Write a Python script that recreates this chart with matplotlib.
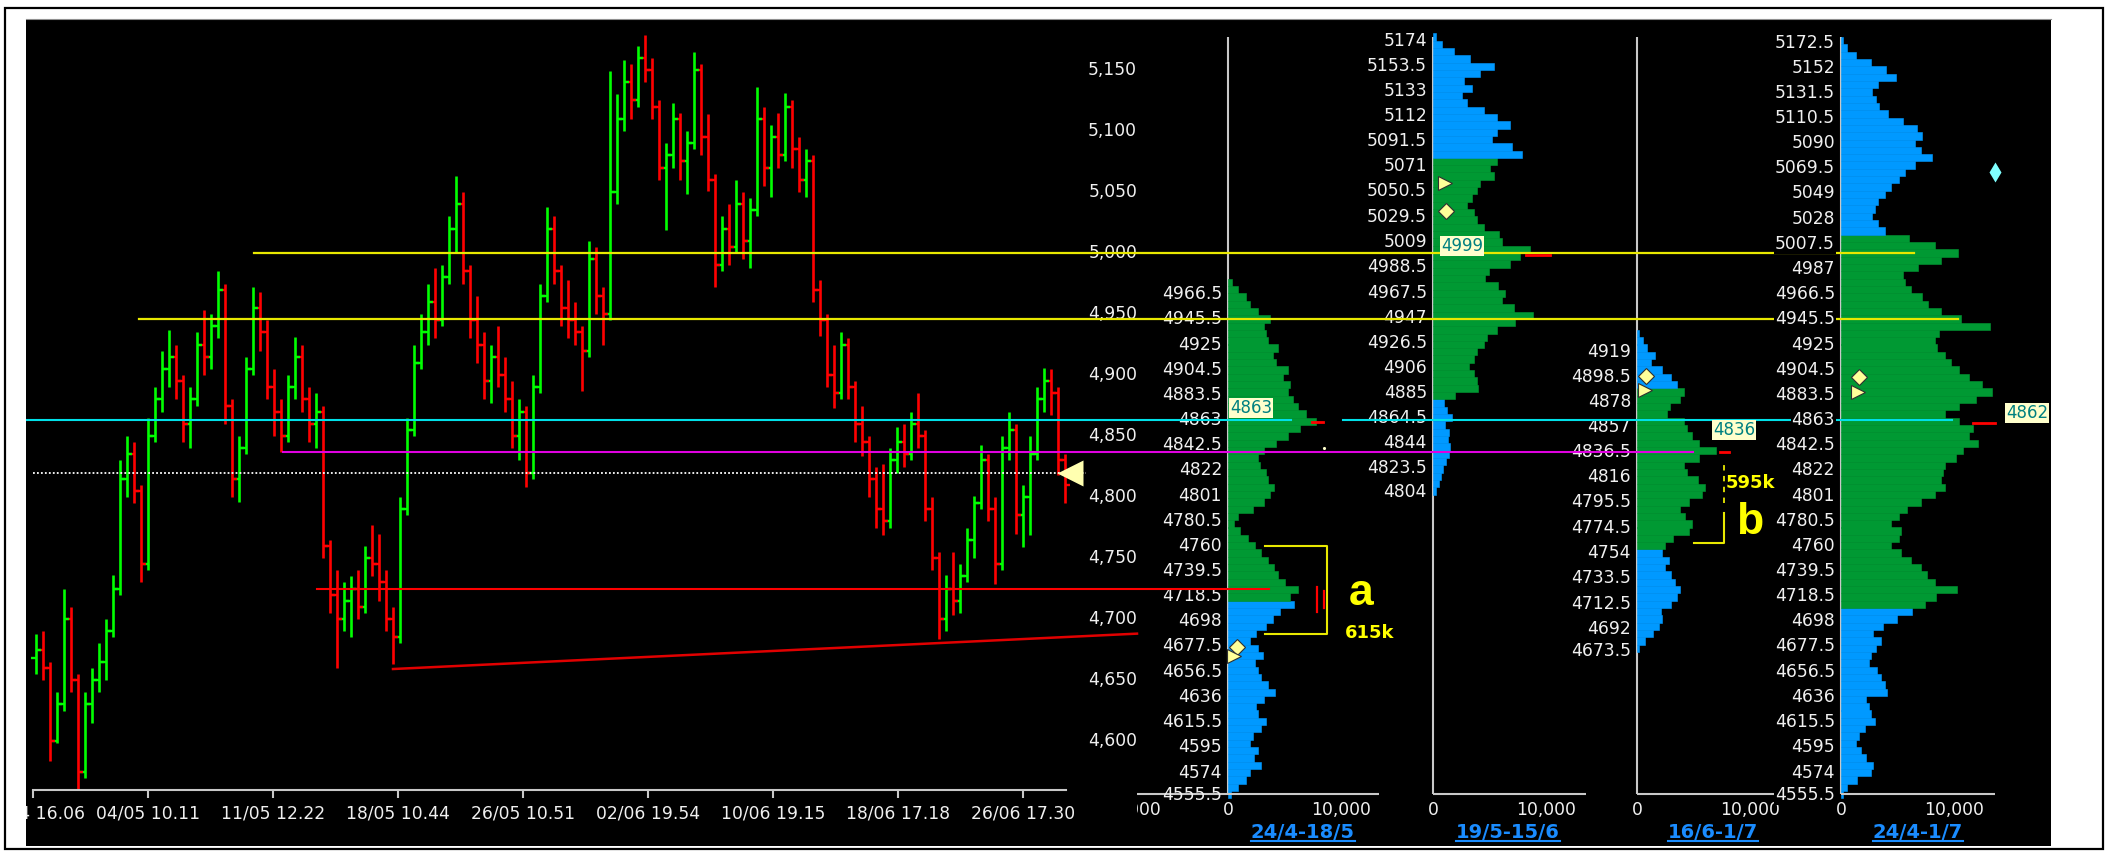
import numpy as np
import matplotlib
matplotlib.use("Agg")
import matplotlib.pyplot as plt
from matplotlib.patches import Rectangle
from matplotlib.lines import Line2D

plt.rcParams['font.family'] = ['DejaVu Sans']

# ------------------------- data -------------------------
# price bars (one bar every 7 px on the screen)
bar_open = [4668, 4675, 4660, 4600, 4630, 4700, 4650, 4575, 4630, 4650,
            4665, 4690, 4725, 4815, 4835, 4805, 4745, 4850, 4880, 4905,
            4915, 4895, 4860, 4880, 4925, 4915, 4940, 4970, 4875, 4815,
            4840, 4905, 4955, 4935, 4890, 4870, 4850, 4890, 4915, 4880,
            4860, 4870, 4760, 4720, 4700, 4715, 4725, 4710, 4750, 4745,
            4730, 4700, 4685, 4790, 4855, 4910, 4935, 4960, 4945, 4980,
            5020, 5040, 4985, 4945, 4925, 4895, 4915, 4900, 4880, 4850,
            4870, 4820, 4890, 4965, 5020, 4985, 4955, 4945, 4935, 4920,
            4995, 4965, 4950, 5050, 5110, 5140, 5125, 5160, 5150, 5120,
            5070, 5080, 5110, 5075, 5090, 5150, 5095, 5060, 4990, 5020,
            5005, 5040, 5010, 5035, 5110, 5070, 5095, 5080, 5120, 5085,
            5060, 5075, 4970, 4945, 4900, 4885, 4925, 4890, 4860, 4845,
            4815, 4790, 4780, 4830, 4845, 4835, 4860, 4850, 4790, 4750,
            4700, 4725, 4715, 4735, 4765, 4795, 4830, 4790, 4745, 4840,
            4855, 4785, 4800, 4835, 4880, 4895, 4885, 4830]
bar_high = [4688, 4690, 4665, 4640, 4725, 4710, 4655, 4640, 4660, 4680,
            4700, 4736, 4830, 4850, 4845, 4810, 4865, 4890, 4920, 4937,
            4925, 4900, 4890, 4935, 4953, 4950, 4985, 4975, 4880, 4850,
            4915, 4972, 4968, 4945, 4905, 4880, 4900, 4931, 4925, 4890,
            4885, 4875, 4765, 4740, 4730, 4735, 4740, 4760, 4777, 4770,
            4740, 4710, 4800, 4865, 4925, 4950, 4975, 4988, 4990, 5030,
            5063, 5050, 4990, 4965, 4935, 4925, 4940, 4915, 4895, 4880,
            4875, 4900, 4975, 5038, 5030, 4990, 4978, 4960, 4940, 5010,
            5005, 4972, 5149, 5130, 5158, 5155, 5170, 5179, 5160, 5125,
            5090, 5123, 5115, 5100, 5165, 5155, 5114, 5065, 5030, 5040,
            5060, 5050, 5045, 5136, 5120, 5105, 5115, 5131, 5125, 5095,
            5085, 5080, 4978, 4950, 4925, 4935, 4930, 4895, 4875, 4850,
            4825, 4827, 4840, 4857, 4860, 4870, 4885, 4855, 4800, 4755,
            4736, 4755, 4745, 4775, 4801, 4843, 4835, 4800, 4850, 4870,
            4860, 4810, 4850, 4890, 4906, 4905, 4890, 4835]
bar_low = [4655, 4650, 4584, 4598, 4625, 4640, 4560, 4570, 4615, 4640,
           4650, 4685, 4720, 4800, 4795, 4730, 4740, 4845, 4870, 4890,
           4880, 4845, 4840, 4875, 4900, 4905, 4930, 4860, 4800, 4796,
           4835, 4900, 4920, 4880, 4850, 4837, 4845, 4880, 4870, 4845,
           4840, 4750, 4705, 4660, 4690, 4685, 4700, 4705, 4735, 4715,
           4690, 4663, 4680, 4785, 4850, 4905, 4925, 4930, 4940, 4975,
           5000, 4975, 4930, 4910, 4880, 4877, 4890, 4870, 4840, 4830,
           4808, 4815, 4885, 4960, 4975, 4940, 4930, 4925, 4887, 4915,
           4950, 4925, 4945, 5040, 5100, 5110, 5120, 5140, 5110, 5060,
           5019, 5070, 5060, 5048, 5085, 5080, 5051, 4972, 4985, 4990,
           5000, 4995, 4988, 5030, 5055, 5046, 5070, 5075, 5070, 5050,
           5046, 4960, 4932, 4890, 4873, 4880, 4880, 4845, 4834, 4800,
           4775, 4769, 4775, 4820, 4825, 4830, 4840, 4780, 4740, 4684,
           4690, 4703, 4705, 4730, 4750, 4790, 4780, 4729, 4740, 4830,
           4770, 4759, 4769, 4830, 4870, 4867, 4818, 4795]
bar_close = [4675, 4660, 4600, 4630, 4700, 4650, 4575, 4630, 4650, 4665,
             4690, 4725, 4815, 4835, 4805, 4745, 4850, 4880, 4905, 4915,
             4895, 4860, 4880, 4925, 4915, 4940, 4970, 4875, 4815, 4840,
             4905, 4955, 4935, 4890, 4870, 4850, 4890, 4915, 4880, 4860,
             4870, 4760, 4720, 4700, 4715, 4725, 4710, 4750, 4745, 4730,
             4700, 4685, 4790, 4855, 4910, 4935, 4960, 4945, 4980, 5020,
             5040, 4985, 4945, 4925, 4895, 4915, 4900, 4880, 4850, 4870,
             4820, 4890, 4965, 5020, 4985, 4955, 4945, 4935, 4920, 4995,
             4965, 4950, 5050, 5110, 5140, 5125, 5160, 5150, 5120, 5070,
             5080, 5110, 5075, 5090, 5150, 5095, 5060, 4990, 5020, 5005,
             5040, 5010, 5035, 5110, 5070, 5095, 5080, 5120, 5085, 5060,
             5075, 4970, 4945, 4900, 4885, 4925, 4890, 4860, 4845, 4815,
             4790, 4780, 4830, 4845, 4835, 4860, 4850, 4790, 4750, 4700,
             4725, 4715, 4735, 4765, 4795, 4830, 4790, 4745, 4840, 4855,
             4785, 4800, 4835, 4880, 4895, 4885, 4830, 4810]

time_labels = ["28/04 16.06", "04/05 10.11", "11/05 12.22", "18/05 10.44", "26/05 10.51",
               "02/06 19.54", "10/06 19.15", "18/06 17.18", "26/06 17.30"]
price_ticks = [5150, 5100, 5050, 5000, 4950, 4900, 4850, 4800, 4750, 4700, 4650, 4600]

# volume profiles: volumes per 6-point bin, from the lowest bin upward
p1_low, p2_low, p3_low, p4_low = 4553, 4802, 4673, 4553
p1_vol = [270, 890, 1590, 1950, 2920, 2300, 2660, 1950, 2210, 2920,
          3360, 2660, 2480, 3190, 4160, 3540, 2920, 2660, 2390, 3100,
          2660, 1950, 2480, 3360, 3980, 4600, 5840, 5490, 6200, 5040,
          4430, 4070, 3540, 2920, 2390, 1770, 1060, 530, 890, 2210,
          3190, 3720, 4070, 3540, 3360, 2830, 2660, 3190, 4250, 5310,
          6370, 7790, 6900, 6200, 5750, 5310, 5490, 4870, 5310, 4250,
          3980, 4430, 3540, 3360, 3190, 3720, 2660, 1950, 1590, 890, 350]
p2_vol = [270, 530, 710, 890, 1150, 1420, 1500, 1330, 1420, 1060,
          1680, 1240, 970, 1950, 3980, 3890, 3630, 3190, 3630, 3890,
          4510, 4780, 5660, 7260, 8850, 7170, 6110, 6370, 5750, 4600,
          4960, 6810, 7700, 8580, 6110, 5840, 4510, 3890, 3630, 3010,
          3450, 3890, 4160, 5400, 5040, 5660, 7880, 6990, 5220, 5660,
          6810, 5660, 4510, 3010, 2570, 3450, 2740, 4160, 5400, 3270,
          1860, 800, 270]
p3_vol = [180, 710, 1420, 1950, 2210, 2120, 3010, 3540, 3810, 3360,
          3010, 2480, 2830, 2210, 2480, 3190, 4600, 4870, 4250, 3810,
          4600, 5750, 6020, 5400, 4430, 4160, 5490, 6990, 5490, 4870,
          4430, 4160, 2660, 2920, 3810, 4160, 3540, 3010, 2210, 1240,
          1590, 890, 530, 180]
p4_vol = [180, 530, 1420, 2660, 2830, 2210, 1770, 1330, 1590, 2120,
          3010, 2660, 2480, 2210, 4070, 3890, 3540, 3190, 2480, 2660,
          3100, 3540, 2830, 3720, 4960, 6280, 7430, 8410, 10270, 8320,
          7610, 7080, 6200, 5310, 4430, 5130, 5310, 4430, 5130, 5840,
          7080, 8320, 9200, 8850, 9030, 9200, 10180, 10800, 12120, 11330,
          11680, 10440, 9200, 10440, 11950, 13360, 12480, 11330, 10440, 9740,
          9200, 8500, 8320, 8670, 13190, 10620, 8850, 7700, 7170, 6200,
          5660, 5490, 6810, 8850, 10350, 8320, 6020, 3890, 3270, 2740,
          3010, 3270, 3890, 4430, 5130, 5660, 6550, 8050, 7080, 6550,
          7170, 6730, 5490, 4160, 3360, 3100, 2740, 3270, 4870, 3980,
          2660, 1330, 530, 180]
# value area (green part) of each profile
p_value_area = [(4713, 4990), (4880, 5080), (4755, 4888), (4710, 5016)]

p1_labels = ["4966.5", "4945.5", "4925", "4904.5", "4883.5", "4863", "4842.5", "4822", "4801",
             "4780.5", "4760", "4739.5", "4718.5", "4698", "4677.5", "4656.5", "4636", "4615.5",
             "4595", "4574", "4555.5"]
p2_labels = ["5174", "5153.5", "5133", "5112", "5091.5", "5071", "5050.5", "5029.5", "5009",
             "4988.5", "4967.5", "4947", "4926.5", "4906", "4885", "4864.5", "4844", "4823.5", "4804"]
p3_labels = ["4919", "4898.5", "4878", "4857", "4836.5", "4816", "4795.5", "4774.5", "4754",
             "4733.5", "4712.5", "4692", "4673.5"]
p4_labels = ["5172.5", "5152", "5131.5", "5110.5", "5090", "5069.5", "5049", "5028", "5007.5",
             "4987", "4966.5", "4945.5", "4925", "4904.5", "4883.5", "4863", "4842.5", "4822",
             "4801", "4780.5", "4760", "4739.5", "4718.5", "4698", "4677.5", "4656.5", "4636",
             "4615.5", "4595", "4574", "4555.5"]
p_titles = ["24/4-18/5", "19/5-15/6", "16/6-1/7", "24/4-1/7"]
p_poc_box = ["4863", "4999", "4836", "4862"]

# ------------------------- layout -------------------------
W, H = 2107, 852
fig = plt.figure(figsize=(W / 100, H / 100), dpi=100)
fig.patch.set_facecolor('white')


def price_at(ypx):
    # screen y pixel -> index points (5000 at y=253, 1.22 px per point)
    return 5000 - (ypx - 253) / 1.22


def add_px_axes(x0, y0, x1, y1):
    return fig.add_axes([x0 / W, 1 - y1 / H, (x1 - x0) / W, (y1 - y0) / H])


BLACK = (26, 19, 2051, 846)
YLIM = (price_at(846), price_at(19))
VOL_PX = 113 / 10000.0      # pixels per contract on the profile axes
TXT = '#f0f0f0'
AXC = '#c8c8c8'
GREEN_P, BLUE_P = '#009933', '#0099ff'
YEL = '#e8e800'
TITLE_BLUE = '#1a8cff'
LBL = 12.3

fig.add_artist(Rectangle((5 / W, 1 - 849 / H), 2098 / W, 841 / H, transform=fig.transFigure,
                         fill=False, ec='black', lw=1.6))

# background + price bars
ax_bg = add_px_axes(*BLACK)
ax_bg.set_facecolor('black')
ax_bg.set_xlim(BLACK[0], BLACK[2])
ax_bg.set_ylim(*YLIM)
ax_bg.set_xticks([])
ax_bg.set_yticks([])
for s in ax_bg.spines.values():
    s.set_visible(False)
ax_bg.spines['top'].set_visible(True)
ax_bg.spines['top'].set_color('#909090')

o = np.array(bar_open)
c = np.array(bar_close)
bx = 36 + 7 * np.arange(len(o))
bcol = np.where(c >= o, '#00ff00', '#ff0000')
ax_bg.vlines(bx, bar_low, bar_high, colors=bcol, lw=1.9)
ax_bg.hlines(o, bx - 5, bx, colors=bcol, lw=1.7)
ax_bg.hlines(c, bx, bx + 5, colors=bcol, lw=1.7)

# time axis
tick_px = [33, 148, 273, 398, 523, 648, 773, 898, 1023]
ax_bg.plot([33, 1066], [price_at(790)] * 2, color=AXC, lw=1.5)
ax_bg.vlines(tick_px, price_at(798), price_at(790), color=AXC, lw=1.5)
for tx, lab in zip(tick_px, time_labels):
    ax_bg.text(tx, price_at(813), lab, color=TXT, fontsize=LBL, ha='center', va='center', clip_on=True)

# price axis labels
for p in price_ticks:
    ax_bg.text(1137, p, f"{p:,}", color=TXT, fontsize=LBL, ha='right', va='center')

# volume profiles
panel_axis_px = [1228, 1433, 1637, 1841]
panel_end_vol = [13360, 13540, 12570, 13630]
panels = [(p1_low, p1_vol, p1_labels), (p2_low, p2_vol, p2_labels),
          (p3_low, p3_vol, p3_labels), (p4_low, p4_vol, p4_labels)]
panel_axes = []
for k, (lo, vols, labs) in enumerate(panels):
    ax0 = panel_axis_px[k]
    ax = add_px_axes(ax0 - 91, 19, ax0 + 160, 846)
    ax.set_xlim(-91 / VOL_PX, 160 / VOL_PX)
    ax.set_ylim(*YLIM)
    ax.set_axis_off()
    centers = lo + 3 + 6 * np.arange(len(vols))
    va_lo, va_hi = p_value_area[k]
    cols = [GREEN_P if va_lo <= y < va_hi else BLUE_P for y in centers]
    ax.vlines(0, price_at(794), price_at(37), color=AXC, lw=1.5, zorder=1)
    ax.barh(centers, vols, height=6, left=0, color=cols, edgecolor=cols, lw=0.4, zorder=2)
    x_start = -8050 if k == 0 else 0
    ax.hlines(price_at(794), x_start, panel_end_vol[k], color=AXC, lw=1.5)
    ax.text(0, price_at(810), "0", color=TXT, fontsize=LBL, ha='center', va='center')
    ax.text(10000, price_at(810), "10,000", color=TXT, fontsize=LBL, ha='center', va='center')
    panel_axes.append(ax)
panel_axes[0].text(-8000, price_at(810), "8,000", color=TXT, fontsize=LBL, ha='center',
                   va='center', clip_on=True)

# overlay: levels, labels, markers
ax_top = add_px_axes(*BLACK)
ax_top.set_xlim(BLACK[0], BLACK[2])
ax_top.set_ylim(*YLIM)
ax_top.set_axis_off()

for k, (lo, vols, labs) in enumerate(panels):
    for lab in labs:
        kw = dict(bbox=dict(fc='black', ec='none', pad=0.5), zorder=5) if k == 3 else dict(zorder=1)
        ax_top.text(panel_axis_px[k] - 6, float(lab), lab, color=TXT, fontsize=LBL,
                    ha='right', va='center', **kw)

ax_top.plot([254, 1914], [5000, 5000], color=YEL, lw=1.6, zorder=3)
ax_top.plot([139, 1958], [4945.5, 4945.5], color=YEL, lw=1.6, zorder=3)
ax_top.plot([26, 1291], [4863, 4863], color='#00e0e8', lw=1.5, zorder=3)
ax_top.plot([1343, 1952], [4863, 4863], color='#00e0e8', lw=1.5, zorder=3)
ax_top.plot([283, 1693], [4836.5, 4836.5], color='#e000e0', lw=1.5, zorder=3)
ax_top.plot([33, 1086], [4819.5, 4819.5], color='white', lw=1.3, ls=(0, (1, 1.2)), zorder=3)
ax_top.plot([317, 1269], [4725, 4725], color='#ff0000', lw=1.5, zorder=3)
ax_top.plot([393, 1137], [4659, 4688], color='#e00000', lw=1.8, zorder=3)

# point of control marks
ax_top.plot([1312, 1323], [4861.6, 4861.6], color='red', lw=2, zorder=4)
ax_top.plot([1526, 1550], [4998, 4998], color='red', lw=2, zorder=4)
ax_top.plot([1720, 1729], [4837, 4837], color='red', lw=2, zorder=4)
ax_top.plot([1973, 1995], [4860.7, 4860.7], color='red', lw=2, zorder=4)

# value boxes
box_px = [(1230, 4873), (1441, 5006), (1713, 4855), (2006, 4869)]
for (bxp, by), lab in zip(box_px, p_poc_box):
    ax_top.text(bxp, by, lab, color='#008080', fontsize=12, ha='left', va='center', zorder=6,
                bbox=dict(fc='#ffffcc', ec='none', pad=0.6))

# markers
mk = dict(mfc='#ffff99', mec='#303030', mew=0.8, ls='none', zorder=7)
ax_top.plot([1237, 1446, 1646, 1859], [4677, 5034.4, 4899, 4898], 'D', ms=8, **mk)
ax_top.plot([1234, 1445, 1645, 1858], [4670, 5057.4, 4887.7, 4886], '>', ms=10, **mk)
ax_top.plot([1070], [4819.5], '<', ms=19, mfc='#ffffb0', mec='none', ls='none', zorder=7)
ax_top.plot([1995], [5066.6], 'd', ms=10, mfc='#80ffff', mec='none', ls='none', zorder=7)
ax_top.plot([1324], [4840], '.', ms=2.5, color='#ffffcc', zorder=7)

# bracket a
ax_top.plot([1265, 1327, 1327, 1265], [4760, 4760, 4687.7, 4687.7], color=YEL, lw=1.5, zorder=4)
ax_top.plot([1317, 1317], [4706, 4726], color='red', lw=1.6, zorder=4)
ax_top.plot([1324, 1324], [4709, 4723], color='red', lw=1.6, zorder=4)
ax_top.text(1361, 4721, "a", color='#ffff00', fontsize=32, fontweight='bold',
            family=['Liberation Sans'], ha='center', va='center', zorder=6)
ax_top.text(1370, 4688.5, "615k", color='#ffff00', fontsize=13, fontweight='bold',
            ha='center', va='center', zorder=6)

# bracket b
ax_top.plot([1694, 1724, 1724], [4762, 4762, 4787], color=YEL, lw=1.5, zorder=4)
ax_top.plot([1724, 1724], [4795, 4828], color=YEL, lw=1.3, ls=(0, (3, 3)), zorder=4)
ax_top.text(1750, 4779.5, "b", color='#ffff00', fontsize=32, fontweight='bold',
            family=['Liberation Sans'], ha='center', va='center', zorder=6)
ax_top.text(1726, 4811.5, "595k", color='#ffff00', fontsize=13, fontweight='bold',
            ha='left', va='center', zorder=6)

# panel titles (underlined)
title_px = [1303, 1508, 1713, 1918]
title_txt = []
for tx, lab in zip(title_px, p_titles):
    title_txt.append(ax_top.text(tx, price_at(833), lab, color=TITLE_BLUE, fontsize=14,
                                 fontweight='bold', ha='center', va='center', zorder=6))
fig.canvas.draw()
for t in title_txt:
    bb = t.get_window_extent().transformed(fig.transFigure.inverted())
    fig.add_artist(Line2D([bb.x0, bb.x1], [bb.y0 + 1.0 / H] * 2, transform=fig.transFigure,
                          color=TITLE_BLUE, lw=1.5))

fig.savefig('out.png', dpi=100, facecolor='white')
